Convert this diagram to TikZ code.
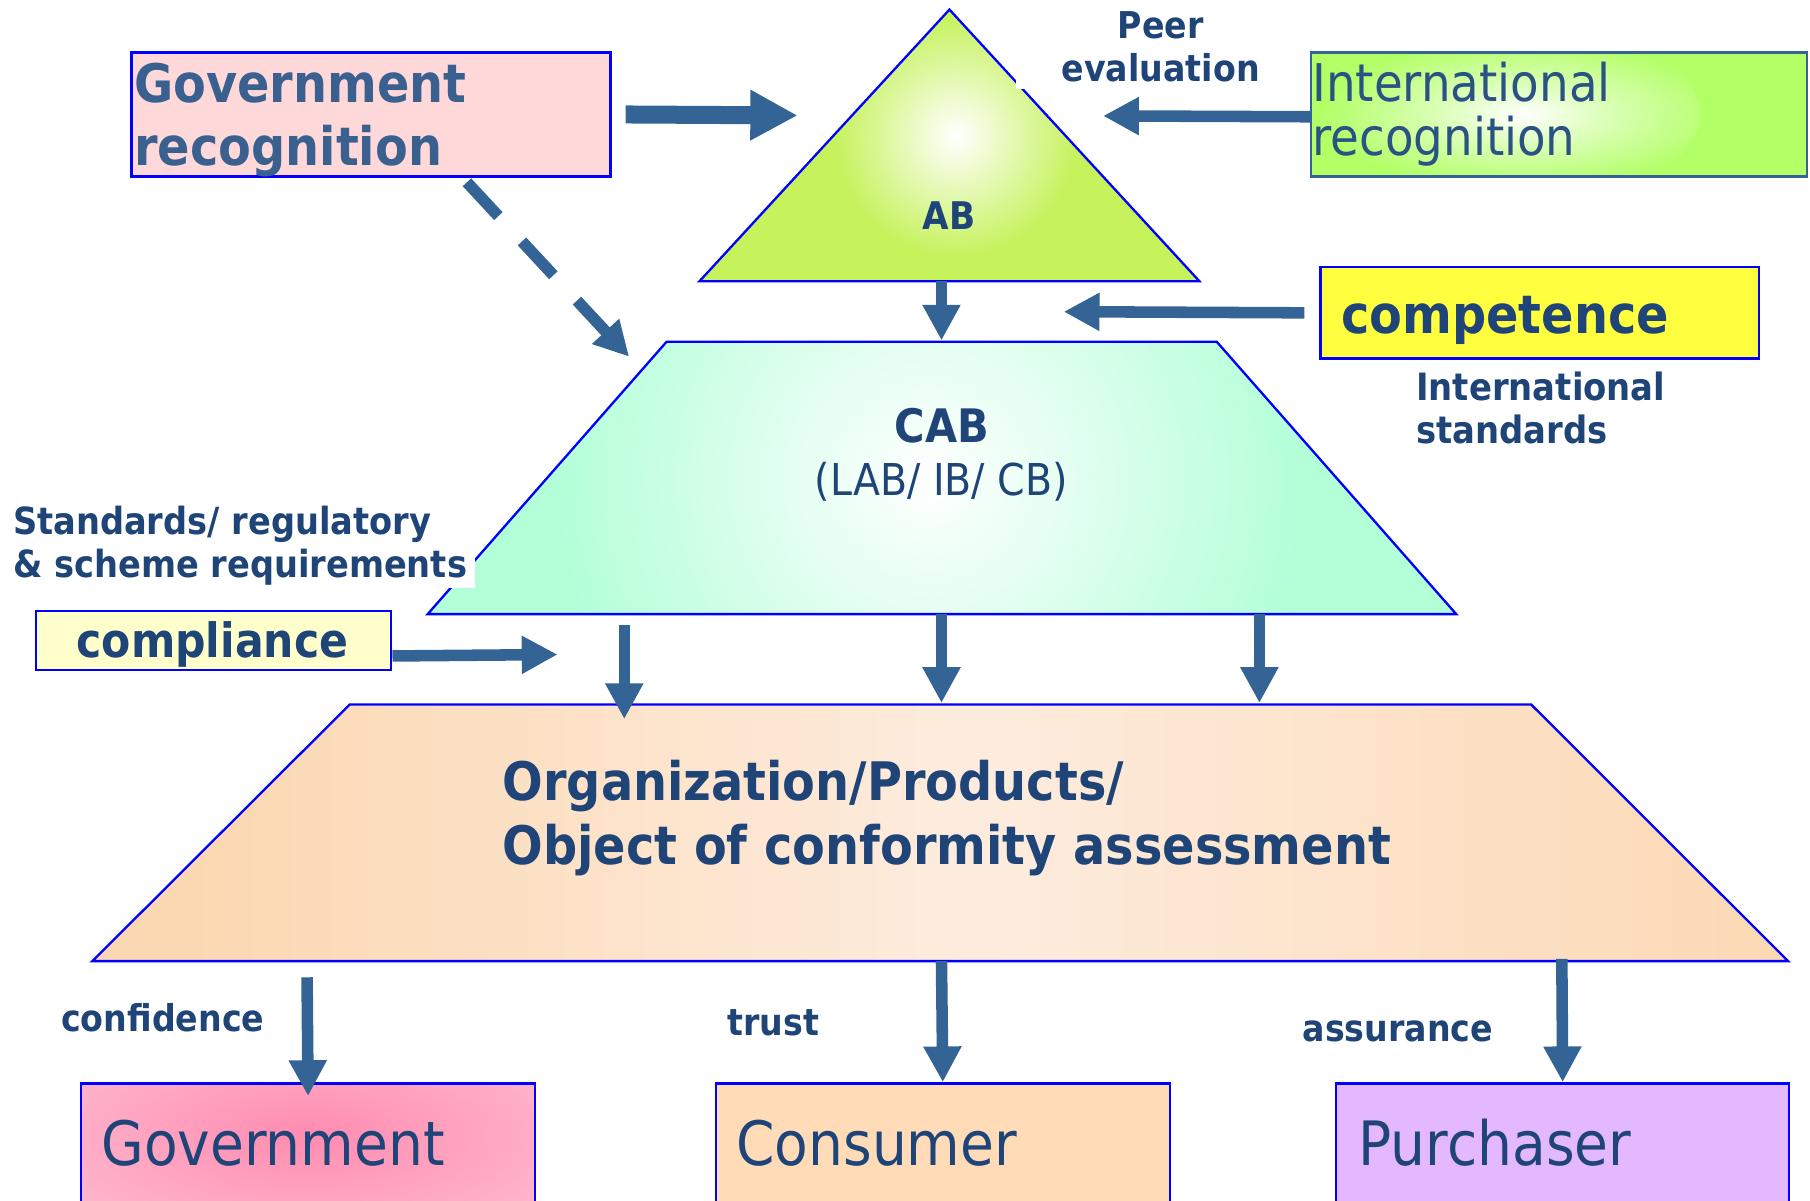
\documentclass[tikz,border=0pt]{standalone}
\usepackage{fontspec}
\setmainfont{DejaVu Sans}[FakeStretch=0.9]
\usetikzlibrary{arrows.meta}

\definecolor{inkblue}{RGB}{31,68,120}
\definecolor{govink}{RGB}{58,96,144}
\definecolor{intlink}{RGB}{42,82,130}
\definecolor{flowblue}{RGB}{52,100,150}
\definecolor{rimblue}{RGB}{0,0,255}
\definecolor{abgreen}{RGB}{198,242,92}
\definecolor{cabaqua}{RGB}{178,255,216}
\definecolor{orgpeach}{RGB}{252,216,178}
\definecolor{orglight}{RGB}{253,236,222}
\definecolor{govpink}{RGB}{255,217,217}
\definecolor{intlgreen}{RGB}{178,255,102}
\definecolor{compyellow}{RGB}{255,255,64}
\definecolor{complyellow}{RGB}{255,255,204}
\definecolor{gvpink}{RGB}{255,200,218}
\definecolor{gvdeep}{RGB}{255,140,176}
\definecolor{conspeach}{RGB}{255,219,184}
\definecolor{purchlav}{RGB}{228,184,255}

\newcommand{\fsize}[2]{\fontsize{#1}{#2}\selectfont}

\pgfdeclarehorizontalshading{orgband}{100bp}{color(0bp)=(orgpeach); color(28bp)=(orgpeach); color(51bp)=(orglight); color(76bp)=(orgpeach); color(100bp)=(orgpeach)}
\pgfdeclareradialshading{intlglow}{\pgfpointorigin}{color(0bp)=(white); color(7bp)=(intlgreen!45!white); color(18bp)=(intlgreen); color(50bp)=(intlgreen)}

\tikzset{
  rim/.style={draw=rimblue, line width=1pt},
  box/.style={rim, rectangle, inner sep=0pt, anchor=north west},
  lbl/.style={text=inkblue, inner sep=0pt, font=\bfseries\fsize{16}{19}},
  flow/.style={draw=flowblue, line width=5pt, -{Triangle[length=15.5pt,width=15.5pt]}},
  bigflow/.style={flow, line width=7.8pt, -{Triangle[length=20.5pt,width=20.5pt]}},
}

\begin{document}
\begin{tikzpicture}[x=0.5pt, y=-0.5pt]
\useasboundingbox (0,0) rectangle (1568,1040);
\clip (0,0) rectangle (1568,1040);

% corners of the three layers
\coordinate (abapex) at (822.5,8.3);
\coordinate (abbr) at (1039,243.6);
\coordinate (abbl) at (606,243.6);
\coordinate (cabtl) at (577.5,296);
\coordinate (cabtr) at (1054,296);
\coordinate (cabbr) at (1261.5,532);
\coordinate (cabbl) at (370.5,532);
\coordinate (orgtl) at (303,610.3);
\coordinate (orgtr) at (1326.4,610.3);
\coordinate (orgbr) at (1549,832.6);
\coordinate (orgbl) at (80,832.6);

% AB triangle
\fill[abgreen] (abapex) -- (abbr) -- (abbl) -- cycle;
\begin{scope}
  \clip (abapex) -- (abbr) -- (abbl) -- cycle;
  \shade[inner color=white, outer color=abgreen] (828,118) circle (105);
\end{scope}
\draw[rim] (abapex) -- (abbr) -- (abbl) -- cycle;
\node[lbl, font=\bfseries\fsize{16.5}{19}, anchor=base] (ab) at (822,199) {AB};

% CAB trapezoid
\fill[cabaqua] (cabtl) -- (cabtr) -- (cabbr) -- (cabbl) -- cycle;
\begin{scope}
  \clip (cabtl) -- (cabtr) -- (cabbr) -- (cabbl) -- cycle;
  \shade[inner color=white, outer color=cabaqua] (805,415) circle (330);
\end{scope}
\draw[rim] (cabtl) -- (cabtr) -- (cabbr) -- (cabbl) -- cycle;
\node[lbl, font=\bfseries\fsize{20}{24}, anchor=base] (cab) at (816,383) {CAB};
\node[lbl, font=\fsize{19}{23}, anchor=base] (cabkinds) at (815.5,429) {(LAB/ IB/ CB)};

% Organization trapezoid
\shadedraw[shading=orgband, rim] (orgtl) -- (orgtr) -- (orgbr) -- (orgbl) -- cycle;
\node[lbl, font=\bfseries\fsize{23}{27.5}, anchor=base west, align=left] (org) at (435,748.5) {Organization/Products/\\Object of conformity assessment};

% boxes round the pyramid
\node[box, fill=govpink, minimum width=207.5pt, minimum height=53.75pt] (govrec) at (113,44.4) {};
\node[lbl, text=govink, font=\bfseries\fsize{23}{27.2}, anchor=base west, align=left] (govrectxt) at (116,143.4) {Government\\recognition};
\node[box, draw=flowblue, fill=intlgreen, minimum width=214.75pt, minimum height=53.75pt,
  path picture={\shade[shading=intlglow] ([xshift=-39pt]path picture bounding box.center) ellipse (100pt and 45pt);}] (intlrec) at (1135,44.4) {};
\node[lbl, text=intlink, font=\fsize{22.5}{23.2}, anchor=base west, align=left] (intlrectxt) at (1136.5,134.3) {International\\recognition};
\node[box, fill=compyellow, minimum width=190pt, minimum height=39.5pt] (compet) at (1143,230.5) {};
\node[lbl, font=\bfseries\fsize{23}{27}, anchor=base west] (competxt) at (1161.5,288.5) {competence};
\node[box, fill=complyellow, minimum width=154pt, minimum height=25.75pt] (complia) at (30,528) {};
\node[lbl, font=\bfseries\fsize{20.5}{24}, anchor=base] (compliatxt) at (184,570) {compliance};

% side labels
\node[lbl, fill=white, inner xsep=19.75pt, inner ysep=3pt, anchor=base, align=center] (peer) at (1005.5,71) {Peer\\evaluation};
\node[lbl, font=\bfseries\fsize{16.3}{19}, anchor=base west, align=left] (intlstd) at (1226.5,384.6) {International\\standards};
\node[lbl, font=\bfseries\fsize{16.2}{19}, fill=white, inner xsep=3.5pt, inner ysep=1pt, anchor=base west, align=left] (stdreq) at (4,500.6) {Standards/ regulatory\\\& scheme requirements};
\node[lbl, anchor=base] (confid) at (141,893.7) {confidence};
\node[lbl, anchor=base] (trust) at (670,897) {trust};
\node[lbl, anchor=base] (assur) at (1211,902.6) {assurance};

% parties at the bottom
\node[box, fill=gvpink, minimum width=196.5pt, minimum height=60pt,
  path picture={\shade[inner color=gvdeep, outer color=gvpink] ([yshift=7.75pt]path picture bounding box.center) ellipse (180pt and 70pt);}] (govt) at (69.4,937.5) {};
\node[lbl, font=\fsize{26.5}{30}, anchor=base west] (govttxt) at (87.5,1010) {Government};
\node[box, fill=conspeach, minimum width=196.75pt, minimum height=60pt] (consum) at (619,937.5) {};
\node[lbl, font=\fsize{26.5}{30}, anchor=base west] (consumtxt) at (637.5,1010) {Consumer};
\node[box, fill=purchlav, minimum width=196.25pt, minimum height=60pt] (purch) at (1156.5,937.5) {};
\node[lbl, font=\fsize{26.5}{30}, anchor=base west] (purchtxt) at (1176.5,1010) {Purchaser};

% free ends of the arrows
\coordinate (abtipl) at (691,100);
\coordinate (abtipr) at (955.6,100.4);
\coordinate (cabtipdash) at (545,309);
\coordinate (cabtipr) at (921.5,270);
\coordinate (abfoot) at (815.6,243.6);
\coordinate (cabtop) at (815.6,295);
\coordinate (cabtipl) at (483,567);
\coordinate (cabfootl) at (540.8,541.5);
\coordinate (cabfootm) at (815.6,532);
\coordinate (cabfootr) at (1091,532);
\coordinate (orgtipl) at (540.8,623);
\coordinate (orgtipm) at (815.6,609);
\coordinate (orgtipr) at (1091,609);
\coordinate (orgfootl) at (266,846.6);
\coordinate (orgfootm) at (815.6,832.6);
\coordinate (orgfootr) at (1353,830.6);

% arrows
\draw[bigflow] ([xshift=6pt]govrec.east) -- (abtipl);
\draw[flow, dash pattern=on 20pt off 15pt, -{Triangle[length=15pt,width=15pt]}] ([xshift=41.5pt,yshift=-2pt]govrec.south) -- (cabtipdash);
\draw[flow] ([yshift=-1pt]intlrec.west) -- (abtipr);
\draw[flow] ([xshift=-6.5pt]compet.west) -- (cabtipr);
\draw[flow] (abfoot) -- (cabtop);
\draw[flow] ([yshift=-6.75pt]complia.east) -- (cabtipl);
\draw[flow] (cabfootl) -- (orgtipl);
\draw[flow] (cabfootm) -- (orgtipm);
\draw[flow] (cabfootr) -- (orgtipr);
\draw[flow] (orgfootl) -- ([yshift=-6pt]govt.north);
\draw[flow] (orgfootm) -- (consum.north);
\draw[flow] (orgfootr) -- (purch.north);
\end{tikzpicture}
\end{document}
